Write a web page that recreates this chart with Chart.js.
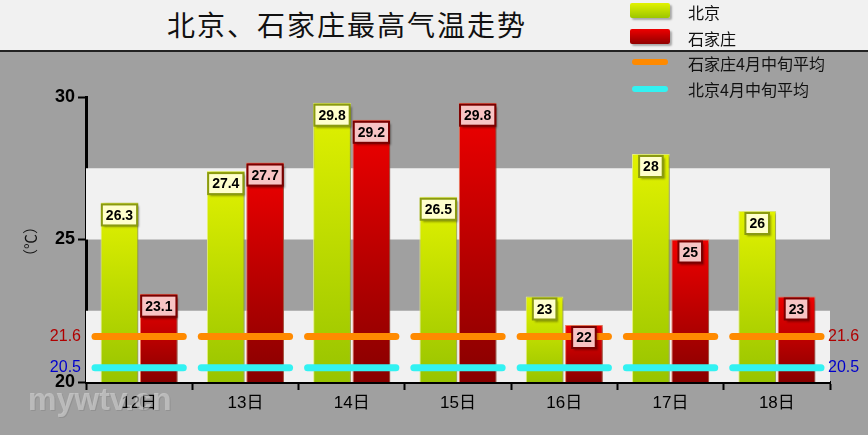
<!DOCTYPE html>
<html>
<head>
<meta charset="utf-8">
<script src="https://cdn.jsdelivr.net/npm/chart.js@4"></script>
<style>
  html, body { margin: 0; padding: 0; }
  body { width: 868px; height: 435px; background: #a0a0a0; position: relative; overflow: hidden;
         font-family: "Noto Sans CJK SC", "Noto Sans", sans-serif; }
  #titlebar { position: absolute; left: 0; top: 0; width: 868px; height: 50px; background: #f1f1f1;
              border-bottom: 2px solid #222; }
  #title { position: absolute; left: 167px; top: 4px; font-size: 28px; line-height: 40px; color: #111; letter-spacing: 2px; }
  #chart { position: absolute; left: 0; top: 0; }
  .lg { position: absolute; left: 688px; font-size: 16px; line-height: 20px; color: #111; z-index: 2; }
  .sw { position: absolute; z-index: 2; }
</style>
</head>
<body>
<div id="titlebar"><div id="title">北京、石家庄最高气温走势</div></div>
<canvas id="chart" width="868" height="435"></canvas>
<div class="sw" style="left:630px;top:3px;width:40px;height:15px;border-radius:2px;background:linear-gradient(#e2f200,#9cc600);box-shadow:2px 2px 2px rgba(0,0,0,.3)"></div>
<div class="lg" style="top:2px">北京</div>
<div class="sw" style="left:630px;top:29px;width:40px;height:15px;border-radius:2px;background:linear-gradient(#ee0000,#900000);box-shadow:2px 2px 2px rgba(0,0,0,.3)"></div>
<div class="lg" style="top:28px">石家庄</div>
<div class="sw" style="left:632px;top:59px;width:36px;height:6px;border-radius:3px;background:#ff8a00"></div>
<div class="lg" style="top:53px">石家庄4月中旬平均</div>
<div class="sw" style="left:632px;top:86px;width:36px;height:6px;border-radius:3px;background:#33f2f2"></div>
<div class="lg" style="top:79px">北京4月中旬平均</div>
<script>
// 日期与两城最高气温
const days = ['12日', '13日', '14日', '15日', '16日', '17日', '18日'];
const beijing = [26.3, 27.4, 29.8, 26.5, 23, 28, 26];
const shijiazhuang = [23.1, 27.7, 29.2, 29.8, 22, 25, 23];
// 4月中旬平均
const sjzAvg = 21.6;
const bjAvg = 20.5;
const yTicks = [20, 25, 30];
const bands = [[20, 22.5], [25, 27.5]];

function barFill(top, bottom) {
  return (c) => {
    const chart = c.chart;
    const y = chart.scales.y;
    if (!chart.chartArea || !y || c.raw == null) return bottom;
    const g = chart.ctx.createLinearGradient(0, y.getPixelForValue(c.raw), 0, y.getPixelForValue(20));
    g.addColorStop(0, top);
    g.addColorStop(1, bottom);
    return g;
  };
}

const decor = {
  id: 'decor',
  beforeDatasetsDraw(chart) {
    const { ctx, chartArea: a, scales: { y } } = chart;
    ctx.save();
    ctx.fillStyle = '#f1f1f1';
    bands.forEach(([lo, hi]) => {
      const t = y.getPixelForValue(hi), b = y.getPixelForValue(lo);
      ctx.fillRect(a.left, t, a.right - a.left, b - t);
    });
    ctx.restore();
    // bar shadows
    ctx.save();
    ctx.shadowColor = 'rgba(0,0,0,0.35)';
    ctx.shadowOffsetX = 3;
    ctx.shadowOffsetY = 1;
    ctx.shadowBlur = 3;
  },
  afterDatasetsDraw(chart) {
    const { ctx, chartArea: a, scales: { x, y } } = chart;
    ctx.restore();
    const cw = (a.right - a.left) / days.length;
    // average segments
    ctx.save();
    ctx.lineCap = 'round';
    ctx.lineWidth = 7;
    [[sjzAvg, '#ff8a00'], [bjAvg, '#33f2f2']].forEach(([v, col]) => {
      const py = y.getPixelForValue(v);
      ctx.strokeStyle = col;
      days.forEach((d, i) => {
        const cx = x.getPixelForValue(i);
        ctx.beginPath();
        ctx.moveTo(cx - cw / 2 + 9, py);
        ctx.lineTo(cx + cw / 2 - 9, py);
        ctx.stroke();
      });
    });
    ctx.restore();
    // value labels
    ctx.save();
    ctx.font = 'bold 14px "Liberation Sans", Arial, sans-serif';
    ctx.textAlign = 'center';
    ctx.textBaseline = 'middle';
    const styles = [{ fill: '#ffffcc', stroke: '#8a9a10' }, { fill: '#f8c4c4', stroke: '#7a0000' }];
    chart.data.datasets.forEach((ds, di) => {
      const meta = chart.getDatasetMeta(di);
      meta.data.forEach((bar, i) => {
        const txt = String(ds.data[i]);
        const w = ctx.measureText(txt).width + 8;
        const h = 21;
        const bx = bar.x - w / 2, by = bar.y + 2;
        ctx.shadowColor = 'rgba(0,0,0,0.35)';
        ctx.shadowOffsetX = 2;
        ctx.shadowOffsetY = 2;
        ctx.shadowBlur = 2;
        ctx.fillStyle = styles[di].fill;
        ctx.fillRect(bx, by, w, h);
        ctx.shadowColor = 'transparent';
        ctx.lineWidth = 2;
        ctx.strokeStyle = styles[di].stroke;
        ctx.strokeRect(bx, by, w, h);
        ctx.fillStyle = '#000';
        ctx.fillText(txt, bar.x, by + h / 2 + 1);
      });
    });
    ctx.restore();
    // side labels for averages
    ctx.save();
    ctx.font = '16px "Liberation Sans", Arial, sans-serif';
    ctx.textBaseline = 'middle';
    [[sjzAvg, '#b00000'], [bjAvg, '#0000cc']].forEach(([v, col]) => {
      const py = y.getPixelForValue(v);
      ctx.fillStyle = col;
      ctx.textAlign = 'right';
      ctx.fillText(v.toFixed(1), a.left - 5, py);
      ctx.textAlign = 'left';
      ctx.fillText(v.toFixed(1), a.right - 2, py);
    });
    ctx.restore();
  },
  afterDraw(chart) {
    const { ctx, chartArea: a } = chart;
    ctx.save();
    ctx.translate(30, (a.top + a.bottom) / 2 + 2);
    ctx.rotate(-Math.PI / 2);
    ctx.font = '15px "Noto Sans CJK SC", sans-serif';
    ctx.fillStyle = '#111';
    ctx.textAlign = 'center';
    ctx.textBaseline = 'middle';
    ctx.fillText('（℃）', 0, 0);
    ctx.restore();
    // watermark
    ctx.save();
    ctx.font = 'bold 32px "Liberation Sans", Arial, sans-serif';
    ctx.fillStyle = 'rgba(225,225,225,0.5)';
    ctx.shadowColor = 'rgba(90,90,90,0.4)';
    ctx.shadowOffsetX = 1;
    ctx.shadowOffsetY = 1;
    ctx.textBaseline = 'alphabetic';
    ctx.fillText('mywtv.cn', 28, 410);
    ctx.restore();
  }
};

new Chart(document.getElementById('chart'), {
  type: 'bar',
  data: {
    labels: days,
    datasets: [
      { label: '北京', data: beijing, backgroundColor: barFill('#e2f200', '#98c400'),
        borderColor: '#e6f27a', borderWidth: 1 },
      { label: '石家庄', data: shijiazhuang, backgroundColor: barFill('#f00000', '#880000'),
        borderColor: '#f07858', borderWidth: 1 }
    ]
  },
  options: {
    responsive: false,
    animation: false,
    devicePixelRatio: 1,
    categoryPercentage: 0.74,
    barPercentage: 0.96,
    layout: { padding: { top: 97, right: 38, bottom: 20, left: 0 } },
    plugins: { legend: { display: false }, title: { display: false }, tooltip: { enabled: false } },
    scales: {
      x: {
        afterFit: (s) => { s.height = 33; },
        grid: { offset: true, drawOnChartArea: false, tickLength: 8, tickWidth: 2, tickColor: '#000' },
        border: { color: '#000', width: 3 },
        ticks: { color: '#000', padding: 3, font: { size: 17, family: '"Liberation Sans", Arial, "Noto Sans CJK SC"' } }
      },
      y: {
        min: 20,
        max: 30,
        afterFit: (s) => { s.width = 86; },
        afterBuildTicks: (s) => { s.ticks = yTicks.map(v => ({ value: v })); },
        grid: { drawOnChartArea: false, tickLength: 8, tickWidth: 2, tickColor: '#000' },
        border: { color: '#000', width: 3 },
        ticks: { color: '#000', padding: 3, font: { size: 18, weight: 'bold', family: '"Liberation Sans", Arial' } }
      }
    }
  },
  plugins: [decor]
});
</script>
</body>
</html>
